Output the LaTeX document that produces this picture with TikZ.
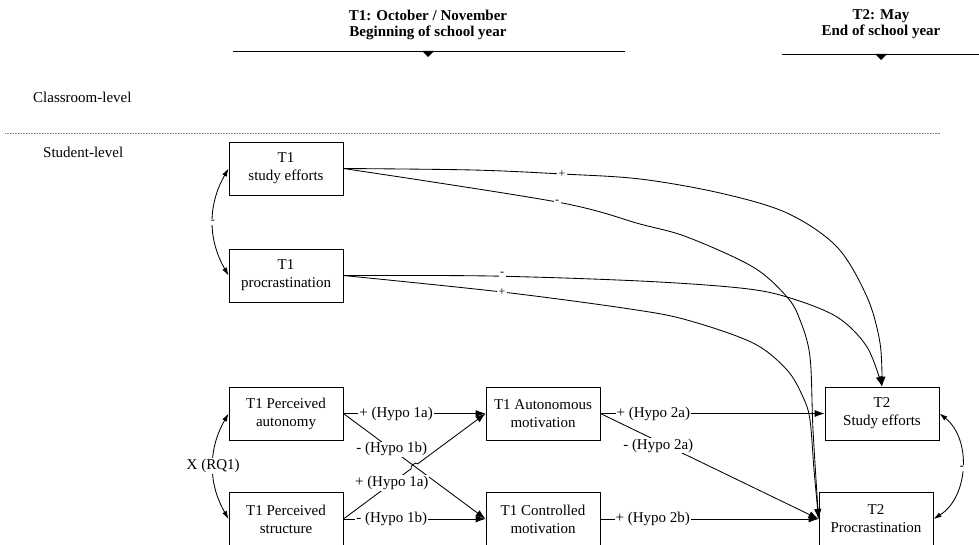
\documentclass[tikz,border=0pt]{standalone}
\usepackage{fontspec}
\setmainfont{Liberation Serif}
\usetikzlibrary{arrows.meta,calc}
\begin{document}
\begin{tikzpicture}[x=1pt,y=1pt,
  box/.style={draw, line width=0.85pt, minimum width=114pt, minimum height=53pt, align=center, font=\fontsize{15}{18}\selectfont, inner sep=0pt},
  conn/.style={line width=0.85pt, -{Latex[length=10pt,width=7pt]}},
  dbl/.style={line width=0.85pt, {Latex[length=8pt,width=5pt]}-{Latex[length=8pt,width=5pt]}},
  lab/.style={fill=white, inner sep=1pt, font=\fontsize{15}{18}\selectfont},
  sm/.style={fill=white, inner sep=1.5pt, font=\fontsize{12}{12}\selectfont},
  hdr/.style={align=center, font=\bfseries\fontsize{15}{16}\selectfont},
  lvl/.style={anchor=west, inner sep=0pt, font=\fontsize{15}{18}\selectfont}
]
\useasboundingbox (0,0) rectangle (979,-545);

% headers
\node[hdr] (h1) at (428,-24.5) {T1: October / November\\Beginning of school year};
\node[hdr] (h2) at (881,-24.5) {T2: May\\End of school year};
\draw[line width=0.9pt] (233,-51) -- (625,-51);
\fill (422,-51) -- (434,-51) -- (428,-57) -- cycle;
\draw[line width=0.9pt] (782,-54) -- (979,-54);
\fill (875,-54) -- (887,-54) -- (881,-60) -- cycle;

% levels
\node[lvl] (cl) at (33,-97) {Classroom-level};
\draw[gray, line width=0.7pt, dash pattern=on 0.8pt off 0.8pt] (5,-133) -- (940,-133);
\node[lvl] (sl) at (43,-152) {Student-level};

% boxes
\node[box] (se1) at (286,-168.5) {T1\\study efforts};
\node[box] (pr1) at (286,-275.5) {T1\\procrastination};
\node[box] (pa) at (286,-413.5) {T1 Perceived\\autonomy};
\node[box, minimum height=54pt] (ps) at (286,-519) {T1 Perceived\\structure};
\node[box] (am) at (543,-413.5) {T1 Autonomous\\motivation};
\node[box, minimum height=54pt] (cm) at (543,-519) {T1 Controlled\\motivation};
\node[box] (se2) at (882,-413.5) {T2\\Study efforts};
\node[box, minimum height=54pt] (pr2) at (876,-519) {T2\\Procrastination};

% correlations
\draw[dbl] (se1.west) to[bend right=30] node[sm] (c1) {-} (pr1.west);
\draw[dbl] (pa.west) to[bend right=30] node[lab] (c2) {X (RQ1)} (ps.west);
\draw[dbl] (se2.east) to[bend left=55] node[sm, font=\bfseries\fontsize{12}{12}\selectfont] (c3) {-} (pr2.east);

% curves
\draw[conn] plot[smooth, tension=0.55] coordinates {(se1.east) (473,-170) (562,-174) (640,-179) (720,-193) (787,-213) (837,-247) (867,-297) (880,-343) (se2.north)};
\draw[conn] plot[smooth, tension=0.55] coordinates {(se1.east) (557,-202) (640,-224) (687,-237) (753,-267) (787,-297) (800,-320) (810,-357) (813,-430) (pr2.west)};
\draw[conn] plot[smooth, tension=0.55] coordinates {(pr1.east) (490,-276) (640,-281) (740,-288) (787,-297) (837,-317) (867,-347) (se2.north)};
\draw[conn] plot[smooth, tension=0.55] coordinates {(pr1.east) (502,-292) (630,-309) (687,-320) (753,-343) (787,-370) (803,-397) (810,-420) (814,-470) (pr2.west)};
\node[sm] (l1) at (562,-174) {+};
\node[sm] (l2) at (557,-202) {-};
\node[sm] (l3) at (502,-274) {-};
\node[sm] (l4) at (502,-292) {+};

% hypotheses
\coordinate (X) at (intersection of pa.east--cm.west and ps.east--am.west);
\coordinate (hA) at ($(X)!4pt!(ps.east)$);
\coordinate (hB) at ($(X)!4pt!(am.west)$);
\draw[conn] (pa.east) -- node[lab, pos=0.37] (t1) {+ (Hypo 1a)} (am.west);
\draw[conn] (pa.east) -- node[lab, pos=0.34] (t2) {- (Hypo 1b)} (cm.west);
\draw[conn] (ps.east) -- (hA) to[bend left=90] (hB) -- (am.west);
\node[lab] (t3) at ($(ps.east)!0.34!(am.west)$) {+ (Hypo 1a)};
\draw[conn] (ps.east) -- node[lab, pos=0.34] (t4) {- (Hypo 1b)} (cm.west);
\draw[conn] (am.east) -- node[lab, pos=0.236] (t5) {+ (Hypo 2a)} (se2.west);
\draw[conn] (am.east) -- node[lab, pos=0.265, yshift=-4pt] (t6) {- (Hypo 2a)} (pr2.west);
\draw[conn] (cm.east) -- node[lab, pos=0.24] (t7) {+ (Hypo 2b)} (pr2.west);
\end{tikzpicture}
\end{document}
